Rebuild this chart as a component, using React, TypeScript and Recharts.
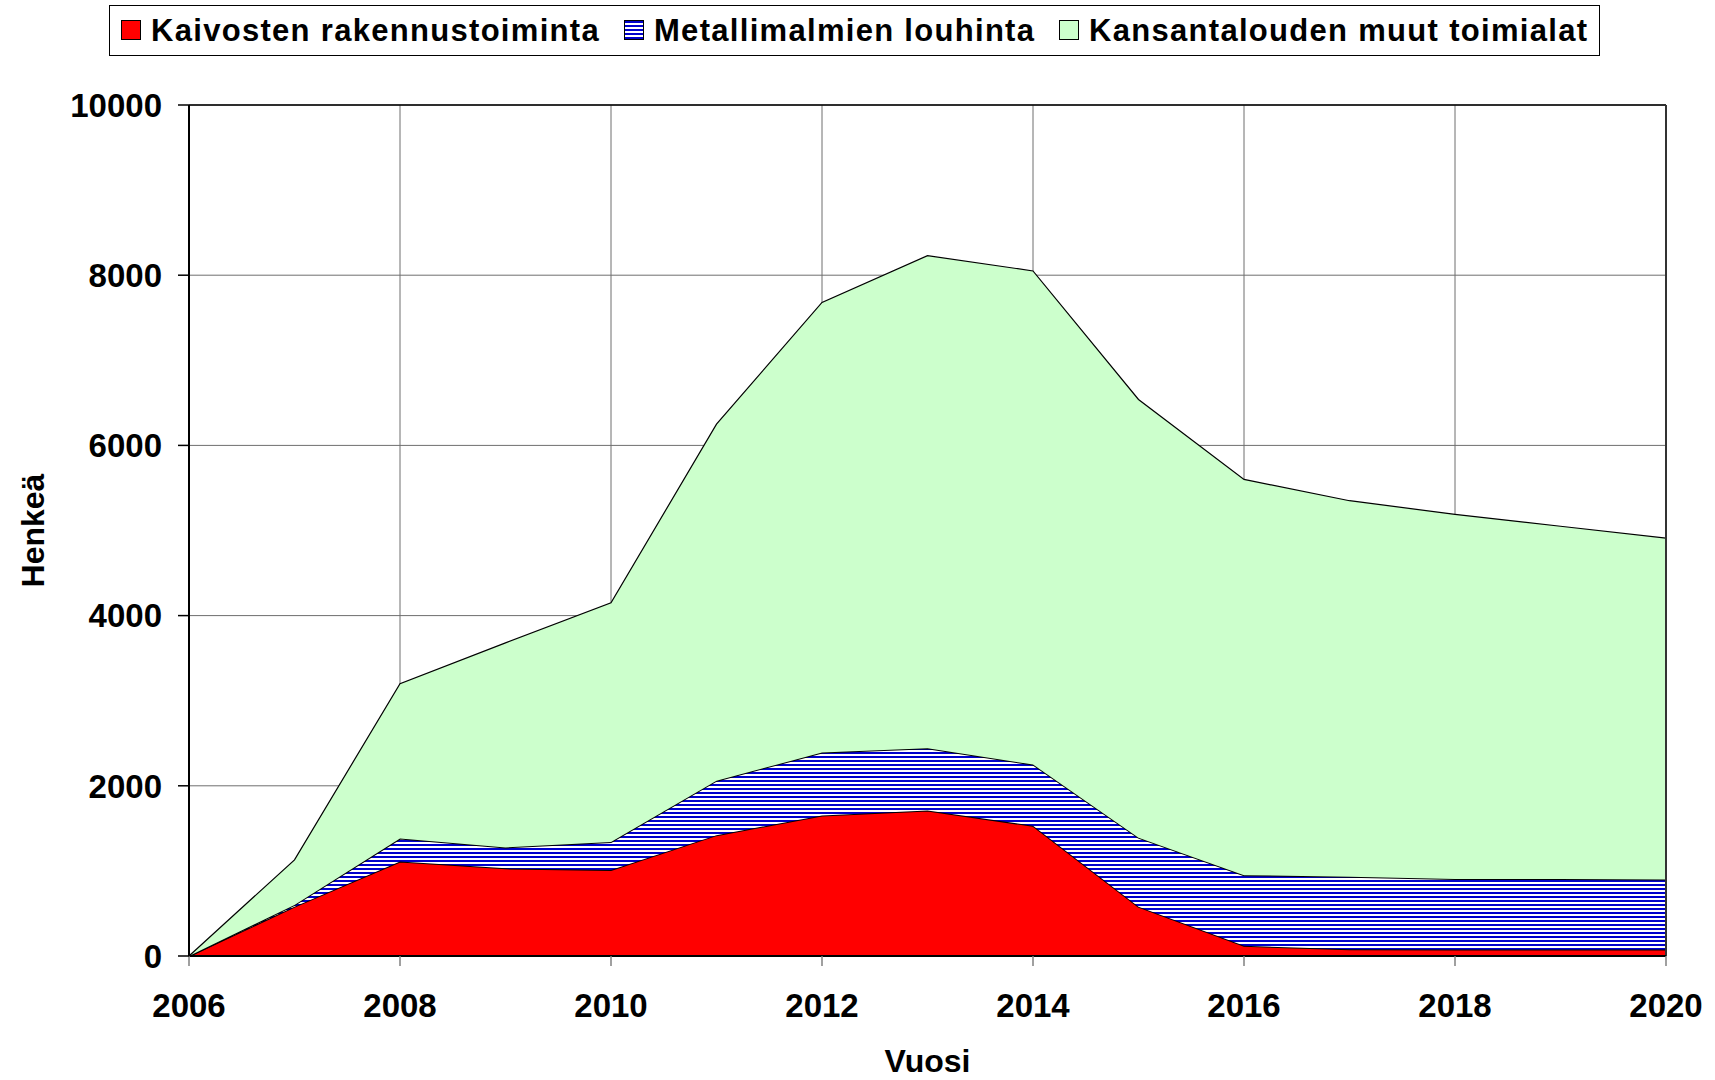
import React from 'react';
import {
  AreaChart,
  Area,
  XAxis,
  YAxis,
  CartesianGrid,
  ReferenceLine,
  Label,
} from 'recharts';

const years = [2006, 2007, 2008, 2009, 2010, 2011, 2012, 2013, 2014, 2015, 2016, 2017, 2018, 2019, 2020];
const kaivosten = [0, 580, 1110, 1030, 1010, 1420, 1650, 1710, 1530, 580, 120, 80, 75, 75, 75];
const metallimalmit = [0, 20, 270, 245, 330, 640, 740, 730, 720, 810, 830, 850, 830, 830, 825];
const muut = [0, 530, 1820, 2405, 2810, 4190, 5290, 5790, 5800, 5150, 4650, 4420, 4285, 4145, 4010];

const xTicks = [2006, 2008, 2010, 2012, 2014, 2016, 2018, 2020];
const yTicks = [0, 2000, 4000, 6000, 8000, 10000];

const seriesNames = ['Kaivosten rakennustoiminta', 'Metallimalmien louhinta', 'Kansantalouden muut toimialat'];

const FONT = '"Liberation Sans", Arial, sans-serif';
const W = 1715;
const H = 1080;

const data = years.map((year, i) => ({
  year,
  kaivosten: kaivosten[i],
  metalli: metallimalmit[i],
  muut: muut[i],
}));

const hatchCss = 'repeating-linear-gradient(to bottom, #0000cc 0px, #0000cc 2px, #ffffff 2px, #ffffff 4px)';

// legend swatches: fill style and left edge of each entry inside the page
const legendItems = [
  { name: seriesNames[0], bg: '#ff0000', left: 120 },
  { name: seriesNames[1], bg: hatchCss, left: 623 },
  { name: seriesNames[2], bg: '#ccffcc', left: 1058 },
];

function ChartLegend() {
  return (
    <div
      style={{
        position: 'absolute',
        left: 109,
        top: 5,
        width: 1491,
        height: 51,
        border: '1.5px solid #000',
        boxSizing: 'border-box',
        background: '#fff',
      }}
    >
      {legendItems.map((item) => (
        <div
          key={item.name}
          style={{
            position: 'absolute',
            left: item.left - 109,
            top: 0,
            height: 48,
            display: 'flex',
            alignItems: 'center',
          }}
        >
          <div
            style={{
              width: 20,
              height: 20,
              background: item.bg,
              border: '1px solid #000',
              boxSizing: 'border-box',
              marginRight: 10,
            }}
          />
          <span
            style={{
              fontFamily: FONT,
              fontWeight: 'bold',
              fontSize: 31,
              letterSpacing: 1.3,
              color: '#000',
              lineHeight: '31px',
              whiteSpace: 'nowrap',
            }}
          >
            {item.name}
          </span>
        </div>
      ))}
    </div>
  );
}

const YTitle = (props: any) => {
  const { viewBox } = props;
  const cx = viewBox.x + 33;
  const cy = viewBox.y + viewBox.height / 2;
  return (
    <text
      x={cx}
      y={cy}
      transform={`rotate(-90 ${cx} ${cy})`}
      textAnchor="middle"
      dominantBaseline="central"
      fontFamily={FONT}
      fontWeight="bold"
      fontSize={32}
      fill="#000"
    >
      Henkeä
    </text>
  );
};

const XTitle = (props: any) => {
  const { viewBox } = props;
  return (
    <text
      x={viewBox.x + viewBox.width / 2}
      y={viewBox.y + 105}
      textAnchor="middle"
      dominantBaseline="central"
      fontFamily={FONT}
      fontWeight="bold"
      fontSize={32}
      fill="#000"
    >
      Vuosi
    </text>
  );
};

export default function App() {
  const tickStyle = { fill: '#000', fontSize: 33, fontWeight: 'bold', fontFamily: FONT };
  return (
    <div style={{ position: 'absolute', left: 0, top: 0, width: W, height: H, background: '#fff' }}>
      <AreaChart
        width={W}
        height={H}
        data={data}
        margin={{ top: 105, right: 49, left: 0, bottom: 0 }}
      >
        <defs>
          <pattern id="hatch" width="8" height="4" patternUnits="userSpaceOnUse">
            <rect width="8" height="4" fill="#ffffff" />
            <rect width="8" height="2" fill="#0000cc" />
          </pattern>
        </defs>
        <CartesianGrid stroke="#6e6e6e" strokeWidth={1} />
        <XAxis
          dataKey="year"
          type="number"
          domain={[years[0], years[years.length - 1]]}
          ticks={xTicks}
          interval={0}
          height={124}
          tickSize={10}
          tickMargin={28}
          tick={tickStyle}
          tickLine={{ stroke: '#808080', strokeWidth: 1.5 }}
          axisLine={{ stroke: '#000', strokeWidth: 2 }}
        >
          <Label content={<XTitle />} />
        </XAxis>
        <YAxis
          type="number"
          domain={[0, yTicks[yTicks.length - 1]]}
          ticks={yTicks}
          interval={0}
          width={189}
          tickSize={11}
          tickMargin={16}
          tick={tickStyle}
          tickLine={{ stroke: '#000', strokeWidth: 1.5 }}
          axisLine={{ stroke: '#000', strokeWidth: 2 }}
        >
          <Label content={<YTitle />} />
        </YAxis>
        <Area
          type="linear"
          dataKey="kaivosten"
          name={seriesNames[0]}
          stackId="1"
          fill="#ff0000"
          fillOpacity={1}
          stroke="#000"
          strokeWidth={2}
          isAnimationActive={false}
        />
        <Area
          type="linear"
          dataKey="metalli"
          name={seriesNames[1]}
          stackId="1"
          fill="url(#hatch)"
          fillOpacity={1}
          stroke="#000"
          strokeWidth={2}
          isAnimationActive={false}
        />
        <Area
          type="linear"
          dataKey="muut"
          name={seriesNames[2]}
          stackId="1"
          fill="#ccffcc"
          fillOpacity={1}
          stroke="#000"
          strokeWidth={1.2}
          isAnimationActive={false}
        />
        <ReferenceLine y={yTicks[yTicks.length - 1]} stroke="#000" strokeWidth={1.5} />
        <ReferenceLine x={years[years.length - 1]} stroke="#333" strokeWidth={2} />
      </AreaChart>
      <ChartLegend />
    </div>
  );
}
